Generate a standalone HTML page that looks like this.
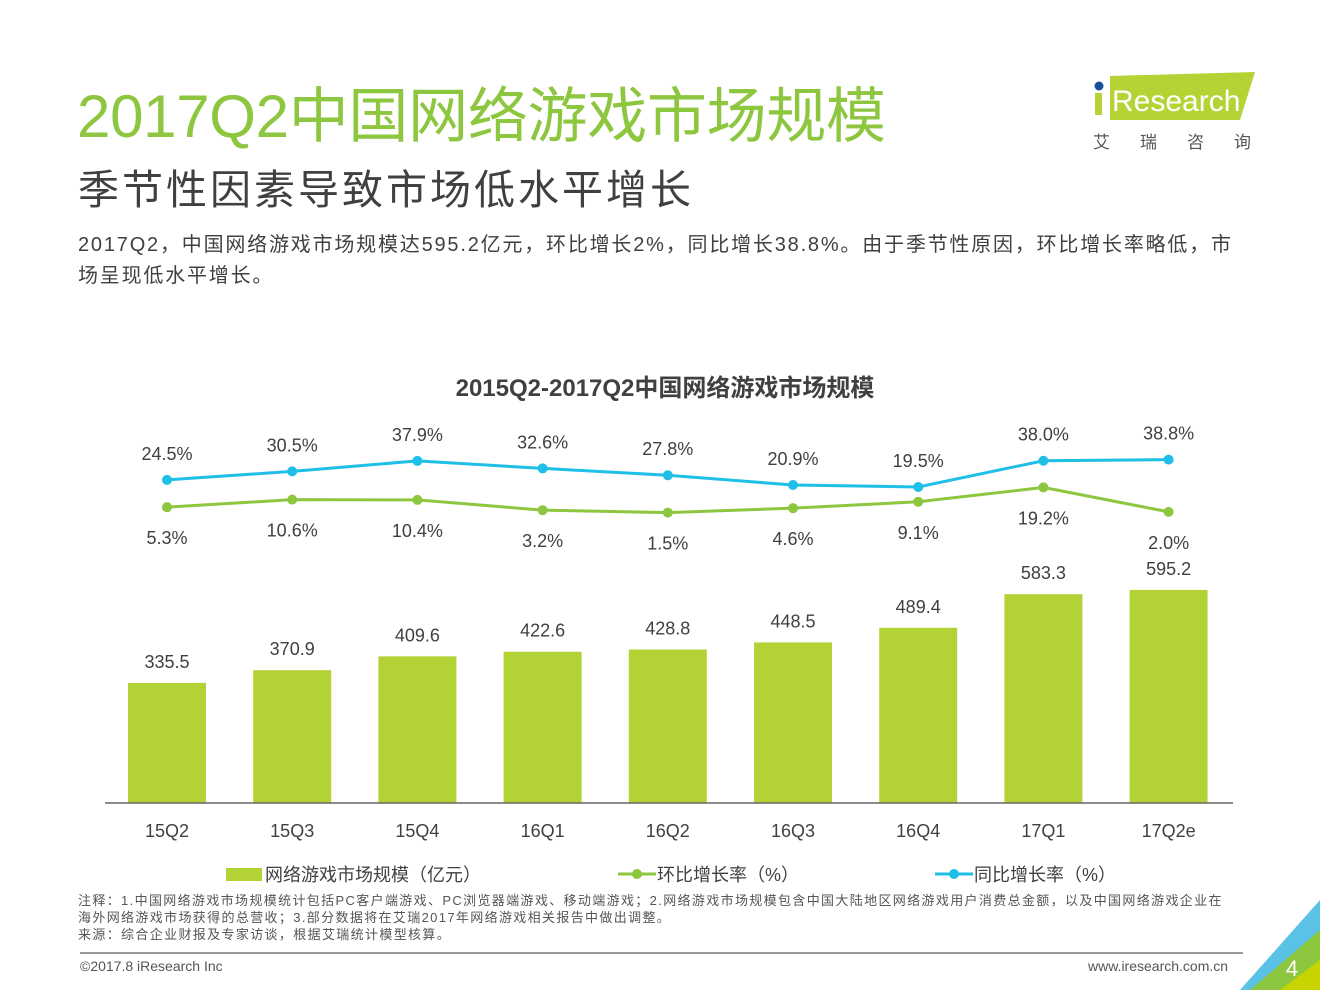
<!DOCTYPE html>
<html><head><meta charset="utf-8">
<style>
body{margin:0;width:1320px;height:990px;background:#fff;overflow:hidden;position:relative;font-family:"Liberation Sans","Noto Sans CJK SC",sans-serif;color:#404040}
.abs{position:absolute;white-space:nowrap}
</style></head><body>
<div class="abs" style="left:77px;top:68px;font-size:60px;color:#8dc63f;letter-spacing:-0.3px">2017Q2中国网络游戏市场规模</div>
<div class="abs" style="left:78px;top:156px;font-size:41px;letter-spacing:3px;color:#404040">季节性因素导致市场低水平增长</div>
<div class="abs" style="left:78px;top:230px;font-size:20px;line-height:31px;color:#404040;letter-spacing:1.8px">2017Q2，中国网络游戏市场规模达595.2亿元，环比增长2%，同比增长38.8%。由于季节性原因，环比增长率略低，市<br>场呈现低水平增长。</div>
<svg class="abs" style="left:1085px;top:68px" width="180" height="90">
<polygon points="25,8 170,4 155,52 25,52" fill="#b5d334"/>
<circle cx="14" cy="18" r="4.5" fill="#1a4f9c"/>
<rect x="10" y="25" width="7" height="22" fill="#b5d334"/>
<text x="27" y="43" font-size="30" fill="#fff" font-family="Liberation Sans">Research</text>
<text x="8" y="80" font-size="17" fill="#555" font-family="Noto Sans CJK SC" letter-spacing="30">艾瑞咨询</text>
</svg>
<svg class="abs" style="left:0;top:0" width="1320" height="990" id="ch"></svg>
<div class="abs" style="left:78px;top:892px;font-size:13px;line-height:17px;color:#555;letter-spacing:1.35px">注释：1.中国网络游戏市场规模统计包括PC客户端游戏、PC浏览器端游戏、移动端游戏；2.网络游戏市场规模包含中国大陆地区网络游戏用户消费总金额，以及中国网络游戏企业在<br>海外网络游戏市场获得的总营收；3.部分数据将在艾瑞2017年网络游戏相关报告中做出调整。<br>来源：综合企业财报及专家访谈，根据艾瑞统计模型核算。</div>
<div class="abs" style="left:80px;top:952px;width:1163px;height:2px;background:#999"></div>
<div class="abs" style="left:80px;top:958px;font-size:14px;color:#555">©2017.8 iResearch Inc</div>
<div class="abs" style="left:1088px;top:958px;font-size:14px;color:#555">www.iresearch.com.cn</div>
<svg class="abs" style="left:1240px;top:900px" width="80" height="90">
<polygon points="80,0 80,50 30,90 0,90" fill="#5bc2e7"/>
<polygon points="80,30 80,90 10,90" fill="#8dc63f"/>
<polygon points="40,90 80,60 80,90" fill="#c8d400"/>
<text x="52" y="76" font-size="22" fill="#fff" text-anchor="middle">4</text>
</svg>
<script>
const categories=["15Q2","15Q3","15Q4","16Q1","16Q2","16Q3","16Q4","17Q1","17Q2e"];
const marketSize=[335.5,370.9,409.6,422.6,428.8,448.5,489.4,583.3,595.2];
const qoqGrowth=[5.3,10.6,10.4,3.2,1.5,4.6,9.1,19.2,2.0];
const yoyGrowth=[24.5,30.5,37.9,32.6,27.8,20.9,19.5,38.0,38.8];
const svg=document.getElementById('ch');const NS='http://www.w3.org/2000/svg';
function mk(t,a,p){const e=document.createElementNS(NS,t);for(const k in a)e.setAttribute(k,a[k]);(p||svg).appendChild(e);return e}
const xAt=i=>167+125.2*i;
const yBar=v=>803-v*0.358;
const yPct=v=>514.7-v*1.42;
let t=mk('text',{x:665,y:396,'font-size':24,'font-weight':'bold','text-anchor':'middle',fill:'#404040'});t.textContent='2015Q2-2017Q2中国网络游戏市场规模';


categories.forEach((c,i)=>{
 const r=mk('rect',{x:xAt(i)-39,y:yBar(marketSize[i]),width:78,height:803-yBar(marketSize[i]),fill:'#b2d235'});
 
 
 const l=mk('text',{x:xAt(i),y:yBar(marketSize[i])-15,'font-size':18,'text-anchor':'middle',fill:'#404040'});l.textContent=marketSize[i].toFixed(1);
 
 
 const x=mk('text',{x:xAt(i),y:837,'font-size':18,'text-anchor':'middle',fill:'#404040'});x.textContent=c;
 
 
});
const ax=mk('line',{x1:105,x2:1233,y1:803,y2:803,stroke:'#666','stroke-width':1.5});


function series(vals,color,name,off){
 const p=mk('polyline',{points:vals.map((v,i)=>xAt(i)+','+yPct(v)).join(' '),fill:'none',stroke:color,'stroke-width':3});
 
 
 vals.forEach((v,i)=>{
  const c=mk('circle',{cx:xAt(i),cy:yPct(v),r:5,fill:color});
  
  
  const l=mk('text',{x:xAt(i),y:yPct(v)+off,'font-size':18,'text-anchor':'middle',fill:'#404040'});l.textContent=v.toFixed(1)+'%';
  
  
 });
}
series(yoyGrowth,'#1fbfe8','yoy',-20);
series(qoqGrowth,'#8dc63f','qoq',37);
const lg=[[226,'网络游戏市场规模（亿元）','#b2d235','rect'],[618,'环比增长率（%）','#8dc63f','line'],[935,'同比增长率（%）','#1fbfe8','line']];
lg.forEach(([x,txt,col,k])=>{
 if(k==='rect')mk('rect',{x:x,y:868,width:36,height:13,fill:col});
 else{mk('line',{x1:x,x2:x+38,y1:874,y2:874,stroke:col,'stroke-width':3});mk('circle',{cx:x+19,cy:874,r:5,fill:col});}
 const t=mk('text',{x:x+39,y:881,'font-size':18,fill:'#404040'});t.textContent=txt;
 
 
});
</script>
</body></html>
